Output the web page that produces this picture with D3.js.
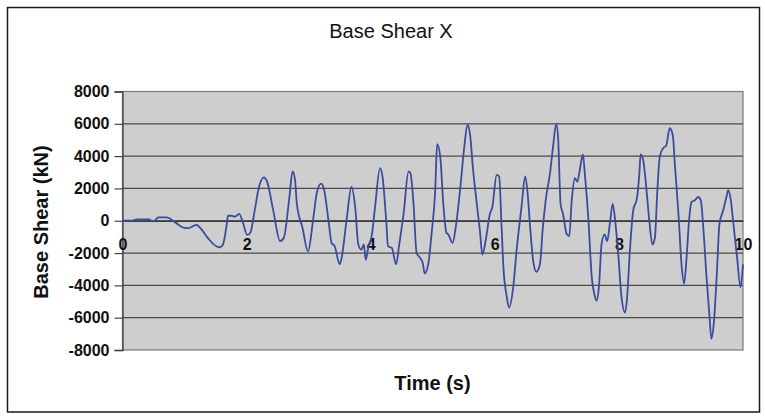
<!DOCTYPE html>
<html>
<head>
<meta charset="utf-8">
<script src="https://cdn.jsdelivr.net/npm/d3@7"></script>
<style>
  html, body { margin: 0; padding: 0; background: #ffffff; }
  svg { display: block; }
  text { font-family: "Liberation Sans", Arial, Helvetica, sans-serif; fill: #111; }
</style>
</head>
<body>
<svg id="chart" width="765" height="419"></svg>
<script>
// ---- data ----
const title = "Base Shear X";
const xLabel = "Time (s)";
const yLabel = "Base Shear (kN)";
const xTicks = [0, 2, 4, 6, 8, 10];
const yTicks = [-8000, -6000, -4000, -2000, 0, 2000, 4000, 6000, 8000];
const time = [0, 0.15, 0.23, 0.42, 0.50, 0.58, 0.71, 0.85, 0.98, 1.06, 1.19, 1.27, 1.38, 1.46, 1.57, 1.62, 1.68, 1.70, 1.76, 1.81, 1.88, 1.94, 2.01, 2.06, 2.13, 2.20, 2.28, 2.33, 2.43, 2.54, 2.60, 2.69, 2.74, 2.78, 2.81, 2.90, 2.99, 3.07, 3.13, 3.20, 3.25, 3.32, 3.37, 3.42, 3.50, 3.53, 3.61, 3.69, 3.75, 3.80, 3.85, 3.89, 3.92, 3.96, 4.02, 4.07, 4.15, 4.19, 4.25, 4.28, 4.34, 4.41, 4.46, 4.53, 4.61, 4.64, 4.69, 4.74, 4.80, 4.84, 4.87, 4.93, 4.98, 5.04, 5.07, 5.12, 5.17, 5.22, 5.25, 5.32, 5.37, 5.44, 5.51, 5.56, 5.60, 5.65, 5.71, 5.76, 5.80, 5.86, 5.92, 5.96, 6.03, 6.07, 6.11, 6.14, 6.19, 6.23, 6.30, 6.35, 6.43, 6.49, 6.53, 6.57, 6.62, 6.67, 6.73, 6.77, 6.82, 6.89, 6.94, 6.99, 7.02, 7.06, 7.10, 7.16, 7.20, 7.24, 7.29, 7.33, 7.37, 7.42, 7.45, 7.51, 7.56, 7.61, 7.64, 7.68, 7.72, 7.77, 7.81, 7.86, 7.90, 7.94, 7.99, 8.04, 8.10, 8.13, 8.18, 8.23, 8.29, 8.33, 8.35, 8.39, 8.44, 8.49, 8.54, 8.58, 8.62, 8.66, 8.72, 8.76, 8.82, 8.87, 8.90, 8.96, 9.01, 9.05, 9.09, 9.13, 9.17, 9.22, 9.28, 9.32, 9.36, 9.41, 9.46, 9.49, 9.53, 9.58, 9.62, 9.68, 9.74, 9.76, 9.80, 9.84, 9.90, 9.96, 10.0];
const shear = [0, 0, 80, 80, -40, 210, 210, -100, -420, -460, -250, -520, -1090, -1430, -1640, -1470, -210, 310, 310, 250, 420, -100, -880, -740, 630, 2100, 2690, 2420, 630, -1260, -1050, 1470, 3050, 2530, 1050, -420, -1900, 0, 1700, 2300, 1900, 0, -1370, -1580, -2690, -2320, 0, 2100, 840, -1470, -1790, -1470, -2420, -1680, -840, 840, 3260, 2740, 0, -1580, -1680, -2690, -1470, 420, 3050, 2950, 1050, -2000, -2320, -2630, -3260, -2630, -840, 1890, 4740, 4000, 1050, -740, -840, -1370, -420, 1890, 4630, 5950, 5370, 3160, 1050, -630, -2100, -1050, 420, 840, 2840, 2740, -420, -2950, -4630, -5370, -4000, -1890, 840, 2740, 1650, -420, -2530, -3160, -2630, -630, 1260, 2950, 4630, 6000, 5160, 1050, 420, -840, -950, 1260, 2630, 2420, 3160, 4100, 2950, 0, -3370, -4630, -4950, -4000, -1470, -840, -1260, 0, 1050, 0, -2100, -4630, -5680, -4840, -1680, 630, 1370, 2950, 4100, 3790, 2100, 0, -1470, -1050, 1890, 4000, 4530, 4630, 5730, 5260, 3580, 420, -2740, -3900, -2320, 0, 1160, 1260, 1470, 1260, -420, -3370, -5900, -7300, -6320, -3160, -210, 630, 1580, 1890, 1370, 0, -2100, -4100, -2700];

// ---- layout ----
const svg = d3.select("#chart");
const L = 122.5, R = 743, T = 91.5, B = 350;
const x = d3.scaleLinear().domain([0, 10]).range([L, R]);
const y = d3.scaleLinear().domain([-8000, 8000]).range([B, T]);
const fmt = d => String(d);

// outer frame
svg.append("rect").attr("x", 7.5).attr("y", 7.5).attr("width", 752).attr("height", 404.5)
  .attr("fill", "#ffffff").attr("stroke", "#1a1a1a").attr("stroke-width", 1.5);

// plot area
svg.append("rect").attr("x", L).attr("y", T).attr("width", R - L).attr("height", B - T)
  .attr("fill", "#cecece").attr("stroke", "#7a7a7a").attr("stroke-width", 1.2);

// gridlines
svg.append("g").selectAll("line").data(yTicks.filter(d => d !== -8000 && d !== 8000)).join("line")
  .attr("x1", L).attr("x2", R).attr("y1", d => y(d)).attr("y2", d => y(d))
  .attr("stroke", "#4a4a4a").attr("stroke-width", 1.2);

// y axis
const yAxis = d3.axisLeft(y).tickValues(yTicks).tickSize(8).tickPadding(5).tickFormat(fmt);
const gy = svg.append("g").attr("transform", `translate(${L},0)`).call(yAxis);
gy.select(".domain").attr("stroke", "#444").attr("stroke-width", 1.3);
gy.selectAll(".tick line").attr("stroke", "#444").attr("stroke-width", 1.2);
gy.selectAll(".tick text").attr("font-size", 16).attr("font-weight", "bold")
  .attr("font-family", "Liberation Sans, Arial, sans-serif").attr("fill", "#111");

// x axis at zero line
const xAxis = d3.axisBottom(x).tickValues(xTicks).tickSize(0).tickPadding(18).tickFormat(fmt);
const gx = svg.append("g").attr("transform", `translate(0,${y(0)})`).call(xAxis);
gx.select(".domain").attr("stroke", "#3a3a3a").attr("stroke-width", 1.3);
gx.selectAll(".tick text").attr("font-size", 16).attr("font-weight", "bold")
  .attr("font-family", "Liberation Sans, Arial, sans-serif").attr("fill", "#111");

// line
const pts = time.map((t, i) => [t, shear[i]]);
const line = d3.line().x(d => x(d[0])).y(d => y(d[1])).curve(d3.curveMonotoneX);
svg.append("path").datum(pts).attr("d", line)
  .attr("fill", "none").attr("stroke", "#3b4b9e").attr("stroke-width", 1.8)
  .attr("stroke-linejoin", "round");

// title and labels
svg.append("text").attr("x", 391).attr("y", 38).attr("text-anchor", "middle")
  .attr("font-size", 20).text(title);
svg.append("text").attr("x", 432.5).attr("y", 390).attr("text-anchor", "middle")
  .attr("font-size", 20).attr("font-weight", "bold").text(xLabel);
svg.append("text").attr("transform", "translate(48,222) rotate(-90)").attr("text-anchor", "middle")
  .attr("font-size", 20).attr("font-weight", "bold").text(yLabel);
</script>
</body>
</html>
